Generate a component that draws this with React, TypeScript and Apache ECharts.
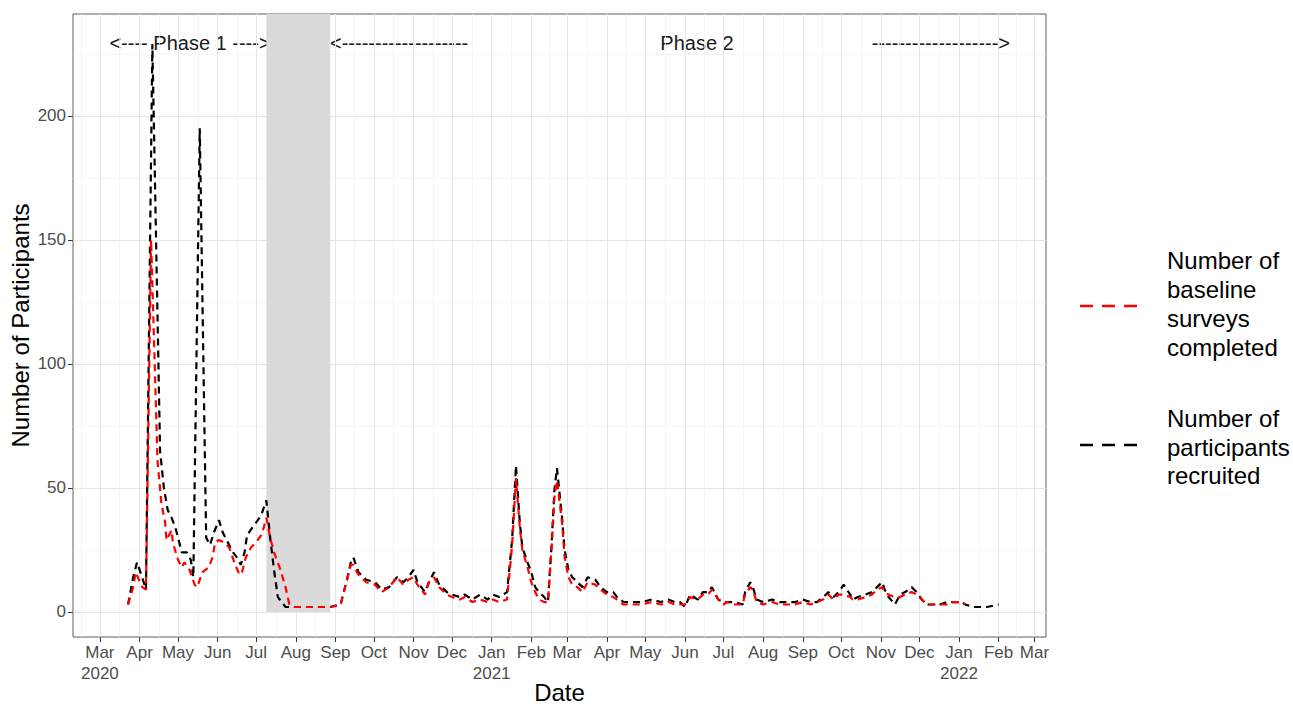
import React, { useEffect, useRef } from "react";
import * as echarts from "echarts";

// ---------- DATA ----------
const recruitedDates = [
  "2020-03-23", "2020-03-27", "2020-03-30", "2020-04-03", "2020-04-06", "2020-04-11", "2020-04-17",
  "2020-04-20", "2020-04-23", "2020-04-26", "2020-04-29", "2020-05-02", "2020-05-04", "2020-05-08",
  "2020-05-11", "2020-05-13", "2020-05-18", "2020-05-23", "2020-05-26", "2020-05-29", "2020-06-02",
  "2020-06-05", "2020-06-09", "2020-06-13", "2020-06-16", "2020-06-19", "2020-06-22", "2020-06-24",
  "2020-06-28", "2020-07-01", "2020-07-05", "2020-07-09", "2020-07-12", "2020-07-15", "2020-07-18",
  "2020-07-24", "2020-07-31", "2020-08-07", "2020-08-14", "2020-08-21", "2020-08-28", "2020-09-05",
  "2020-09-10", "2020-09-13", "2020-09-15", "2020-09-19", "2020-09-25", "2020-10-02", "2020-10-07",
  "2020-10-13", "2020-10-19", "2020-10-24", "2020-10-28", "2020-11-01", "2020-11-04", "2020-11-10",
  "2020-11-13", "2020-11-17", "2020-11-21", "2020-11-27", "2020-12-01", "2020-12-07", "2020-12-11",
  "2020-12-17", "2020-12-23", "2020-12-29", "2021-01-02", "2021-01-07", "2021-01-13", "2021-01-17",
  "2021-01-20", "2021-01-23", "2021-01-25", "2021-01-29", "2021-02-01", "2021-02-04", "2021-02-07",
  "2021-02-11", "2021-02-14", "2021-02-17", "2021-02-19", "2021-02-21", "2021-02-25", "2021-02-27",
  "2021-03-02", "2021-03-05", "2021-03-09", "2021-03-13", "2021-03-17", "2021-03-23", "2021-03-27",
  "2021-04-01", "2021-04-06", "2021-04-09", "2021-04-14", "2021-04-21", "2021-04-28", "2021-05-06",
  "2021-05-13", "2021-05-19", "2021-05-24", "2021-05-28", "2021-06-01", "2021-06-05", "2021-06-11",
  "2021-06-15", "2021-06-19", "2021-06-22", "2021-06-27", "2021-07-01", "2021-07-04", "2021-07-10",
  "2021-07-16", "2021-07-18", "2021-07-22", "2021-07-24", "2021-07-27", "2021-08-01", "2021-08-08",
  "2021-08-14", "2021-08-20", "2021-08-26", "2021-09-01", "2021-09-07", "2021-09-12", "2021-09-17",
  "2021-09-21", "2021-09-25", "2021-09-29", "2021-10-03", "2021-10-08", "2021-10-10", "2021-10-14",
  "2021-10-20", "2021-10-25", "2021-10-29", "2021-11-02", "2021-11-04", "2021-11-07", "2021-11-12",
  "2021-11-16", "2021-11-20", "2021-11-25", "2021-11-29", "2021-12-03", "2021-12-07", "2021-12-13",
  "2021-12-17", "2021-12-23", "2021-12-27", "2022-01-03", "2022-01-06", "2022-01-12", "2022-01-23",
  "2022-02-01",
];
const recruitedCounts = [
  3, 14, 20, 14, 9, 229, 65,
  50, 41, 38, 34, 28, 24, 24,
  21, 14, 195, 30, 27, 32, 37,
  32, 28, 24, 22, 19, 24, 31,
  34, 36, 39, 45, 30, 17, 6,
  2, 2, 2, 2, 2, 2, 3,
  13, 20, 22, 16, 13, 12, 9,
  10, 14, 12, 14, 17, 12, 8,
  12, 16, 11, 8, 7, 6, 7,
  5, 7, 5, 7, 6, 8, 29,
  59, 36, 26, 20, 16, 10, 8,
  6, 4, 29, 49, 58, 38, 25,
  17, 14, 12, 10, 14, 13, 10,
  8, 8, 6, 4, 4, 4, 5,
  4, 5, 4, 4, 2, 7, 5,
  8, 8, 10, 5, 4, 4, 4,
  3, 8, 12, 10, 5, 4, 5,
  4, 4, 4, 5, 4, 4, 6,
  8, 6, 8, 11, 7, 5, 6,
  7, 8, 10, 12, 9, 6, 3,
  7, 8, 10, 8, 5, 3, 3,
  3, 4, 4, 4, 3, 2, 2,
  3,
];

const baselineDates = [
  "2020-03-23", "2020-03-27", "2020-03-29", "2020-04-03", "2020-04-06", "2020-04-10", "2020-04-15",
  "2020-04-18", "2020-04-21", "2020-04-22", "2020-04-26", "2020-04-27", "2020-05-01", "2020-05-04",
  "2020-05-06", "2020-05-10", "2020-05-14", "2020-05-16", "2020-05-20", "2020-05-25", "2020-05-28",
  "2020-05-30", "2020-06-02", "2020-06-06", "2020-06-10", "2020-06-14", "2020-06-18", "2020-06-20",
  "2020-06-23", "2020-06-27", "2020-07-01", "2020-07-05", "2020-07-07", "2020-07-09", "2020-07-12",
  "2020-07-15", "2020-07-20", "2020-07-24", "2020-07-27", "2020-07-31", "2020-08-07", "2020-08-14",
  "2020-08-21", "2020-08-28", "2020-09-05", "2020-09-10", "2020-09-13", "2020-09-15", "2020-09-19",
  "2020-09-25", "2020-10-02", "2020-10-07", "2020-10-13", "2020-10-19", "2020-10-24", "2020-10-28",
  "2020-11-01", "2020-11-04", "2020-11-10", "2020-11-13", "2020-11-17", "2020-11-21", "2020-11-27",
  "2020-12-01", "2020-12-07", "2020-12-11", "2020-12-17", "2020-12-23", "2020-12-29", "2021-01-02",
  "2021-01-07", "2021-01-13", "2021-01-17", "2021-01-20", "2021-01-23", "2021-01-25", "2021-01-29",
  "2021-02-01", "2021-02-04", "2021-02-07", "2021-02-11", "2021-02-14", "2021-02-17", "2021-02-19",
  "2021-02-21", "2021-02-25", "2021-02-27", "2021-03-02", "2021-03-05", "2021-03-09", "2021-03-13",
  "2021-03-17", "2021-03-23", "2021-03-27", "2021-04-01", "2021-04-06", "2021-04-09", "2021-04-14",
  "2021-04-21", "2021-04-28", "2021-05-06", "2021-05-13", "2021-05-19", "2021-05-24", "2021-05-28",
  "2021-06-01", "2021-06-05", "2021-06-11", "2021-06-15", "2021-06-19", "2021-06-22", "2021-06-27",
  "2021-07-01", "2021-07-04", "2021-07-10", "2021-07-16", "2021-07-18", "2021-07-22", "2021-07-24",
  "2021-07-27", "2021-08-01", "2021-08-08", "2021-08-14", "2021-08-20", "2021-08-26", "2021-09-01",
  "2021-09-07", "2021-09-12", "2021-09-17", "2021-09-21", "2021-09-25", "2021-09-29", "2021-10-03",
  "2021-10-08", "2021-10-10", "2021-10-14", "2021-10-20", "2021-10-25", "2021-10-29", "2021-11-02",
  "2021-11-04", "2021-11-07", "2021-11-12", "2021-11-16", "2021-11-20", "2021-11-25", "2021-11-29",
  "2021-12-03", "2021-12-07", "2021-12-13", "2021-12-17", "2021-12-23", "2021-12-27", "2022-01-03",
  "2022-01-06",
];
const baselineCounts = [
  3, 10, 16, 10, 9, 150, 61,
  44, 36, 29, 33, 28, 21, 18,
  20, 17, 11, 10, 16, 18, 22,
  28, 29, 28, 26, 20, 15, 16,
  22, 26, 28, 31, 34, 38, 30,
  24, 17, 10, 3, 2, 2, 2,
  2, 2, 3, 13, 19, 19, 15,
  12, 11, 8, 10, 14, 11, 13,
  14, 11, 7, 12, 14, 10, 7,
  6, 5, 6, 4, 5, 4, 5,
  4, 5, 27, 54, 34, 25, 18,
  12, 8, 5, 4, 4, 27, 46,
  53, 36, 22, 14, 11, 10, 8,
  12, 11, 9, 7, 6, 5, 3,
  3, 3, 4, 3, 4, 3, 3,
  3, 6, 5, 7, 7, 9, 5,
  3, 4, 3, 3, 7, 10, 9,
  4, 3, 4, 3, 3, 3, 4,
  3, 4, 5, 7, 5, 7, 7,
  6, 5, 5, 6, 7, 9, 10,
  8, 7, 6, 6, 7, 8, 7,
  5, 3, 3, 3, 3, 4, 4,
  3,
];

const monthTickDates = [
  "2020-03-01", "2020-04-01", "2020-05-01", "2020-06-01", "2020-07-01", "2020-08-01", "2020-09-01",
  "2020-10-01", "2020-11-01", "2020-12-01", "2021-01-01", "2021-02-01", "2021-03-01", "2021-04-01",
  "2021-05-01", "2021-06-01", "2021-07-01", "2021-08-01", "2021-09-01", "2021-10-01", "2021-11-01",
  "2021-12-01", "2022-01-01", "2022-02-01", "2022-03-01",
];
const monthTickLabels = [
  "Mar\n2020", "Apr", "May", "Jun", "Jul", "Aug", "Sep", "Oct", "Nov", "Dec", "Jan\n2021", "Feb", "Mar",
  "Apr", "May", "Jun", "Jul", "Aug", "Sep", "Oct", "Nov", "Dec", "Jan\n2022", "Feb", "Mar",
];
const yTickValues = [0, 50, 100, 150, 200];

const xRange = ["2020-02-09", "2022-03-10"];
const yRange = [-10.1, 241.1];
const pauseRange = ["2020-07-09", "2020-08-28"];

const seriesNames = ["Number of\nbaseline\nsurveys\ncompleted", "Number of\nparticipants\nrecruited"];

// ---------- HELPERS ----------
const ts = (s: string) => Date.parse(s + "T00:00:00Z");
const FONT = "'Liberation Sans', Arial, Helvetica, sans-serif";

export default function App() {
  const ref = useRef<HTMLDivElement>(null);

  useEffect(() => {
    const el = ref.current;
    if (!el) return;
    const chart = echarts.init(el, null, { renderer: "svg" });

    const monthTs = monthTickDates.map(ts);
    const extMonths = [ts("2020-02-01"), ...monthTs, ts("2022-04-01")];
    const xMin = ts(xRange[0]);
    const xMax = ts(xRange[1]);
    const minorX: number[] = [];
    for (let i = 0; i < extMonths.length - 1; i++) {
      const m = (extMonths[i] + extMonths[i + 1]) / 2;
      if (m > xMin && m < xMax) minorX.push(m);
    }
    const minorY: number[] = [];
    for (let i = 0; i < yTickValues.length; i++) {
      const m = yTickValues[i] + 25;
      if (m < yRange[1]) minorY.push(m);
    }

    const recruitedData = recruitedDates.map((d, i) => [ts(d), recruitedCounts[i]]);
    const baselineData = baselineDates.map((d, i) => [ts(d), baselineCounts[i]]);

    const labelFor = (v: number) => {
      let best = 0;
      let bd = Infinity;
      monthTs.forEach((t, i) => {
        const d = Math.abs(t - v);
        if (d < bd) {
          bd = d;
          best = i;
        }
      });
      return monthTickLabels[best];
    };

    const option: any = {
      animation: false,
      backgroundColor: "#ffffff",
      textStyle: { fontFamily: FONT },
      grid: {
        left: 73,
        top: 14,
        width: 973,
        height: 623,
        show: true,
        borderColor: "#5f5f5f",
        borderWidth: 1,
        backgroundColor: "transparent",
        containLabel: false,
        outerBoundsMode: "none",
      },
      xAxis: [
        {
          type: "value",
          min: xMin,
          max: xMax,
          name: "Date",
          nameLocation: "middle",
          nameGap: 43,
          nameMoveOverlap: false,
          nameTextStyle: { fontSize: 24, color: "#000", fontFamily: FONT },
          axisLine: { show: false, onZero: false },
          axisTick: {
            show: true,
            length: 5,
            customValues: monthTs,
            lineStyle: { color: "#333", width: 1 },
          },
          axisLabel: {
            show: true,
            customValues: monthTs,
            formatter: (v: number) => labelFor(v),
            fontSize: 17,
            lineHeight: 21,
            color: "#4d4d4d",
            margin: 5,
            hideOverlap: false,
            fontFamily: FONT,
          },
          splitLine: { show: true, lineStyle: { color: "#e6e6e6", width: 1 } },
        },
        {
          type: "value",
          min: xMin,
          max: xMax,
          position: "bottom",
          axisLine: { show: false, onZero: false },
          axisTick: { show: false, customValues: minorX },
          axisLabel: { show: false },
          splitLine: { show: true, lineStyle: { color: "#f0f0f0", width: 0.7 } },
        },
      ],
      yAxis: [
        {
          type: "value",
          min: yRange[0],
          max: yRange[1],
          name: "Number of Participants",
          nameLocation: "middle",
          nameRotate: 90,
          nameGap: 41,
          nameMoveOverlap: false,
          nameTextStyle: { fontSize: 24, color: "#000", fontFamily: FONT },
          axisLine: { show: false, onZero: false },
          axisTick: {
            show: true,
            length: 5,
            customValues: yTickValues,
            lineStyle: { color: "#333", width: 1 },
          },
          axisLabel: {
            show: true,
            customValues: yTickValues,
            fontSize: 17,
            color: "#4d4d4d",
            margin: 7,
            fontFamily: FONT,
          },
          splitLine: { show: true, lineStyle: { color: "#e6e6e6", width: 1 } },
        },
        {
          type: "value",
          min: yRange[0],
          max: yRange[1],
          position: "left",
          axisLine: { show: false, onZero: false },
          axisTick: { show: false, customValues: minorY },
          axisLabel: { show: false },
          splitLine: { show: true, lineStyle: { color: "#f0f0f0", width: 0.7 } },
        },
      ],
      series: [
        {
          name: "pause",
          type: "line",
          data: [[ts(pauseRange[0]), 0]],
          symbol: "none",
          lineStyle: { opacity: 0 },
          silent: true,
          z: 1,
          markArea: {
            silent: true,
            itemStyle: { color: "#dadada", opacity: 1 },
            data: [[{ xAxis: ts(pauseRange[0]), yAxis: 0 }, { xAxis: ts(pauseRange[1]), yAxis: yRange[1] }]],
          },
        },
        {
          name: seriesNames[1],
          type: "line",
          data: recruitedData,
          symbol: "none",
          showSymbol: false,
          silent: true,
          z: 2,
          lineStyle: { color: "#000000", width: 2.2, type: [7, 5] },
        },
        {
          name: seriesNames[0],
          type: "line",
          data: baselineData,
          symbol: "none",
          showSymbol: false,
          silent: true,
          z: 3,
          lineStyle: { color: "#ff0000", width: 2.2, type: [7, 5] },
        },
      ],
      graphic: [
        {
          type: "text",
          x: 190,
          y: 43,
          silent: true,
          style: {
            text: "<---- Phase 1 ---->",
            fontSize: 20,
            fontFamily: FONT,
            fill: "#1a1a1a",
            align: "center",
            verticalAlign: "middle",
          },
        },
        {
          type: "text",
          x: 330,
          y: 43,
          silent: true,
          style: {
            text: "<-------------------",
            fontSize: 20,
            fontFamily: FONT,
            fill: "#1a1a1a",
            align: "left",
            verticalAlign: "middle",
          },
        },
        {
          type: "text",
          x: 697,
          y: 43,
          silent: true,
          style: {
            text: "Phase 2",
            fontSize: 20,
            fontFamily: FONT,
            fill: "#1a1a1a",
            align: "center",
            verticalAlign: "middle",
          },
        },
        {
          type: "text",
          x: 1010,
          y: 43,
          silent: true,
          style: {
            text: "------------------->",
            fontSize: 20,
            fontFamily: FONT,
            fill: "#1a1a1a",
            align: "right",
            verticalAlign: "middle",
          },
        },
        {
          type: "text",
          x: 300,
          y: 288,
          rotation: Math.PI / 2,
          silent: true,
          style: {
            text: "Recruitment Pause",
            fontSize: 14,
            fontFamily: FONT,
            fill: "#1a1a1a",
            align: "center",
            verticalAlign: "middle",
          },
        },
        {
          type: "line",
          silent: true,
          shape: { x1: 1080, y1: 306, x2: 1137, y2: 306 },
          style: { stroke: "#ff0000", lineWidth: 2.6, lineDash: [13, 9] },
        },
        {
          type: "text",
          x: 1167,
          y: 304,
          silent: true,
          style: {
            text: seriesNames[0],
            fontSize: 24,
            lineHeight: 28.7,
            fontFamily: FONT,
            fill: "#000",
            align: "left",
            verticalAlign: "middle",
          },
        },
        {
          type: "line",
          silent: true,
          shape: { x1: 1080, y1: 445, x2: 1137, y2: 445 },
          style: { stroke: "#000000", lineWidth: 2.6, lineDash: [13, 9] },
        },
        {
          type: "text",
          x: 1167,
          y: 447,
          silent: true,
          style: {
            text: seriesNames[1],
            fontSize: 24,
            lineHeight: 28.7,
            fontFamily: FONT,
            fill: "#000",
            align: "left",
            verticalAlign: "middle",
          },
        },
      ],
    };

    chart.setOption(option);
    return () => chart.dispose();
  }, []);

  return (
    <div
      ref={ref}
      style={{ position: "fixed", left: 0, top: 0, width: 1293, height: 704, background: "#ffffff" }}
    />
  );
}
